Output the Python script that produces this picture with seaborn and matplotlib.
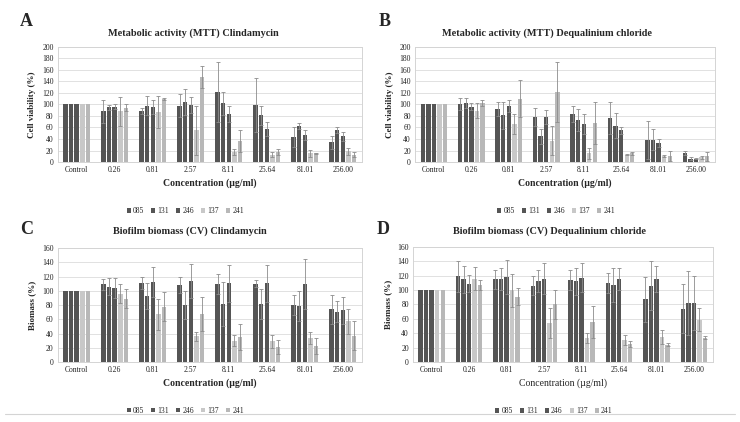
import numpy as np
import pandas as pd
import seaborn as sns
import matplotlib.pyplot as plt
from matplotlib.lines import Line2D

sns.set_theme(style="white")
plt.rcParams['font.family'] = ['Liberation Serif', 'DejaVu Serif']

concentrations = ["Control", "0.26", "0.81", "2.57", "8.11", "25.64", "81.01", "256.00"]
strains = ["085", "131", "246", "137", "241"]
colors = {"085": "#555555", "131": "#555555", "246": "#555555", "137": "#c8c8c8", "241": "#b8b8b8"}

# rows = strains, columns = concentrations
mtt_clinda = [
    [100, 88, 88, 98, 122, 99, 43, 34],
    [100, 95, 98, 104, 102, 81, 63, 56],
    [100, 96, 96, 99, 83, 57, 47, 45],
    [100, 88, 87, 55, 17, 13, 15, 19],
    [100, 94, 109, 147, 37, 17, 15, 13],
]
mtt_clinda_err = [
    [0, 20, 5, 20, 52, 47, 17, 12],
    [0, 4, 17, 23, 20, 16, 5, 5],
    [0, 4, 12, 14, 14, 12, 9, 8],
    [0, 25, 28, 42, 5, 5, 6, 6],
    [0, 6, 2, 19, 19, 5, 1, 5],
]
mtt_dequa = [
    [100, 101, 92, 78, 84, 77, 39, 16],
    [100, 103, 81, 45, 73, 63, 39, 6],
    [100, 96, 97, 78, 66, 55, 33, 6],
    [100, 89, 66, 37, 15, 13, 11, 8],
    [100, 103, 110, 122, 68, 15, 11, 10],
]
mtt_dequa_err = [
    [0, 10, 12, 16, 14, 28, 33, 3],
    [0, 9, 24, 13, 19, 22, 18, 3],
    [0, 6, 10, 12, 17, 6, 7, 1],
    [0, 13, 17, 25, 10, 1, 2, 3],
    [0, 5, 32, 52, 37, 3, 9, 8],
]
cv_clinda = [
    [100, 109, 111, 108, 110, 110, 80, 74],
    [100, 106, 93, 80, 81, 82, 79, 71],
    [100, 104, 112, 114, 111, 111, 110, 73],
    [100, 96, 67, 36, 30, 29, 34, 57],
    [100, 89, 78, 68, 35, 21, 23, 37],
]
cv_clinda_err = [
    [0, 8, 9, 11, 14, 5, 14, 20],
    [0, 12, 18, 20, 31, 21, 21, 15],
    [0, 14, 21, 24, 26, 26, 35, 19],
    [0, 13, 22, 6, 8, 9, 8, 17],
    [0, 13, 20, 24, 18, 10, 11, 20],
]
cv_dequa = [
    [100, 119, 115, 106, 114, 110, 87, 74],
    [100, 115, 115, 113, 112, 107, 106, 82],
    [100, 109, 118, 116, 117, 115, 116, 82],
    [100, 116, 100, 54, 34, 31, 35, 59],
    [100, 107, 91, 80, 56, 25, 24, 34],
]
cv_dequa_err = [
    [0, 22, 13, 13, 14, 14, 31, 34],
    [0, 19, 15, 15, 19, 23, 34, 45],
    [0, 12, 24, 21, 20, 15, 18, 38],
    [0, 16, 23, 21, 7, 7, 10, 16],
    [0, 7, 12, 20, 22, 4, 2, 2],
]

panels = [
    ("A", "Metabolic activity (MTT) Clindamycin", "Cell viability (%)", mtt_clinda, mtt_clinda_err, 200, "bold"),
    ("B", "Metabolic activity (MTT) Dequalinium chloride", "Cell viability (%)", mtt_dequa, mtt_dequa_err, 200, "bold"),
    ("C", "Biofilm biomass (CV) Clindamycin", "Biomass (%)", cv_clinda, cv_clinda_err, 160, "bold"),
    ("D", "Biofilm biomass (CV) Dequalinium chloride", "Biomass (%)", cv_dequa, cv_dequa_err, 160, "normal"),
]

# axes boxes [left, bottom, width, height] and title / letter positions
boxes = [
    [0.078, 0.616, 0.411, 0.273],
    [0.561, 0.616, 0.405, 0.273],
    [0.078, 0.142, 0.411, 0.270],
    [0.558, 0.142, 0.405, 0.273],
]
title_pos = [(0.261, 0.922), (0.739, 0.922), (0.257, 0.453), (0.743, 0.453)]
letter_pos = [(0.036, 0.948), (0.520, 0.948), (0.036, 0.457), (0.518, 0.457)]

fig = plt.figure(figsize=(7.4, 4.22), dpi=100)

for i, (letter, title, ylabel, vals, errs, ymax, xl_weight) in enumerate(panels):
    ax = fig.add_axes(boxes[i])
    df = pd.DataFrame({
        "conc": np.tile(concentrations, len(strains)),
        "strain": np.repeat(strains, len(concentrations)),
        "value": np.array(vals).ravel(),
        "err": np.array(errs).ravel(),
    })
    sns.barplot(data=df, x="conc", y="value", hue="strain", order=concentrations,
                hue_order=strains, palette=colors, errorbar=None, width=0.74,
                gap=0.2, linewidth=0, ax=ax, legend=True, zorder=2)
    for strain, cont in zip(strains, ax.containers):
        sub = df[df.strain == strain].set_index("conc").loc[concentrations]
        xs = [p.get_x() + p.get_width() / 2 for p in cont.patches]
        e = sub["err"].values
        mask = e > 0
        ax.errorbar(np.array(xs)[mask], sub["value"].values[mask], yerr=e[mask],
                    fmt="none", ecolor="#8c8c8c", elinewidth=0.6, capsize=1.3,
                    capthick=0.6, zorder=3)

    ax.set_ylim(0, ymax)
    ax.set_yticks(np.arange(0, ymax + 1, 20))
    ax.set_xlim(-0.5, len(concentrations) - 0.5)
    ax.yaxis.grid(True, color="#dcdcdc", linewidth=0.6, zorder=0)
    ax.set_axisbelow(True)
    for s in ax.spines.values():
        s.set_color("#d4d4d4")
        s.set_linewidth(0.7)
    ax.tick_params(axis="both", length=0, labelsize=5.5, colors="#222222", pad=3)
    ax.set_ylabel(ylabel, fontsize=6.5, fontweight="bold", labelpad=4)
    ax.set_xlabel("Concentration (\u00b5g/ml)", fontsize=7, fontweight=xl_weight, labelpad=3)

    handles, labels = ax.get_legend_handles_labels()
    ax.get_legend().remove()
    ax.legend(handles, labels, loc="upper center", bbox_to_anchor=(0.42 if i % 2 == 0 else 0.47, -0.33),
              ncol=5, frameon=False, fontsize=5.5, handlelength=0.55, handleheight=0.55,
              handletextpad=0.3, columnspacing=0.9)

    fig.text(*title_pos[i], title, ha="center", va="center", fontsize=7.4, fontweight="bold")
    fig.text(*letter_pos[i], letter, ha="center", va="center", fontsize=13, fontweight="bold")

fig.add_artist(Line2D([0.007, 0.993], [0.019, 0.019], color="#d4d4d4", linewidth=0.8))

fig.savefig("out.png", dpi=100)
